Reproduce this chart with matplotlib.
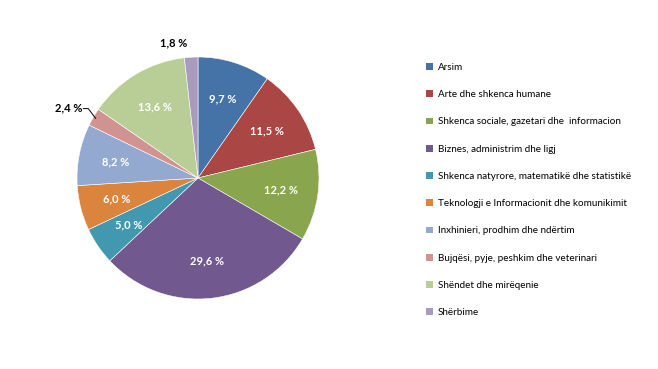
import numpy as np
import matplotlib.pyplot as plt
from matplotlib.patches import Patch

plt.rcParams['font.family'] = ['Lato', 'DejaVu Sans']

categories = [
    'Arsim',
    'Arte dhe shkenca humane',
    'Shkenca sociale, gazetari dhe  informacion',
    'Biznes, administrim dhe ligj',
    'Shkenca natyrore, matematikë dhe statistikë',
    'Teknologji e Informacionit dhe komunikimit',
    'Inxhinieri, prodhim dhe ndërtim',
    'Bujqësi, pyje, peshkim dhe veterinari',
    'Shëndet dhe mirëqenie',
    'Shërbime',
]
values = [9.7, 11.5, 12.2, 29.6, 5.0, 6.0, 8.2, 2.4, 13.6, 1.8]
colors = ['#4572A7', '#AA4643', '#89A54E', '#71588F', '#4198AF',
          '#DB843D', '#93A9CF', '#D19392', '#B9CD96', '#A99BBD']

fig = plt.figure(figsize=(6.58, 3.69), dpi=100)
ax = fig.add_axes([77 / 658, 70 / 369, 242 / 658, 242 / 369])

wedges, _ = ax.pie(values, colors=colors, startangle=90, counterclock=False,
                   radius=1, wedgeprops=dict(edgecolor='white', linewidth=0.4))
ax.set_xlim(-1, 1)
ax.set_ylim(-1, 1)
ax.set_aspect('equal')
ax.axis('off')

def fmt(v):
    return ('%.1f %%' % v).replace('.', ',')

for w, v in zip(wedges, values):
    ang = np.deg2rad((w.theta1 + w.theta2) / 2)
    if v < 3:
        continue
    ax.text(0.69 * np.cos(ang), 0.69 * np.sin(ang), fmt(v), color='white',
            fontsize=8, fontweight='bold', ha='center', va='center')

# small slices labelled outside
w = wedges[9]
ang = np.deg2rad((w.theta1 + w.theta2) / 2)
ax.text(1.12 * np.cos(ang) - 0.14, 1.12 * np.sin(ang), fmt(values[9]),
        color='black', fontsize=8, fontweight='bold', ha='center', va='center')

w = wedges[7]
ang = np.deg2rad((w.theta1 + w.theta2) / 2)
x0, y0 = 0.98 * np.cos(ang), 0.98 * np.sin(ang)
ax.plot([x0, x0 - 0.06, x0 - 0.1], [y0, y0 + 0.08, y0 + 0.08],
        color='black', linewidth=0.7, clip_on=False)
ax.text(x0 - 0.11, y0 + 0.09, fmt(values[7]), color='black', fontsize=8,
        fontweight='bold', ha='right', va='center')

handles = [Patch(facecolor=c, edgecolor='none') for c in colors]
fig.legend(handles, categories, loc='upper left',
           bbox_to_anchor=(422 / 658, 1 - 59 / 369), frameon=False,
           fontsize=7.1, handlelength=0.7, handleheight=0.7,
           handletextpad=0.5, labelspacing=1.85, borderaxespad=0)

fig.savefig('out.png', dpi=100)
